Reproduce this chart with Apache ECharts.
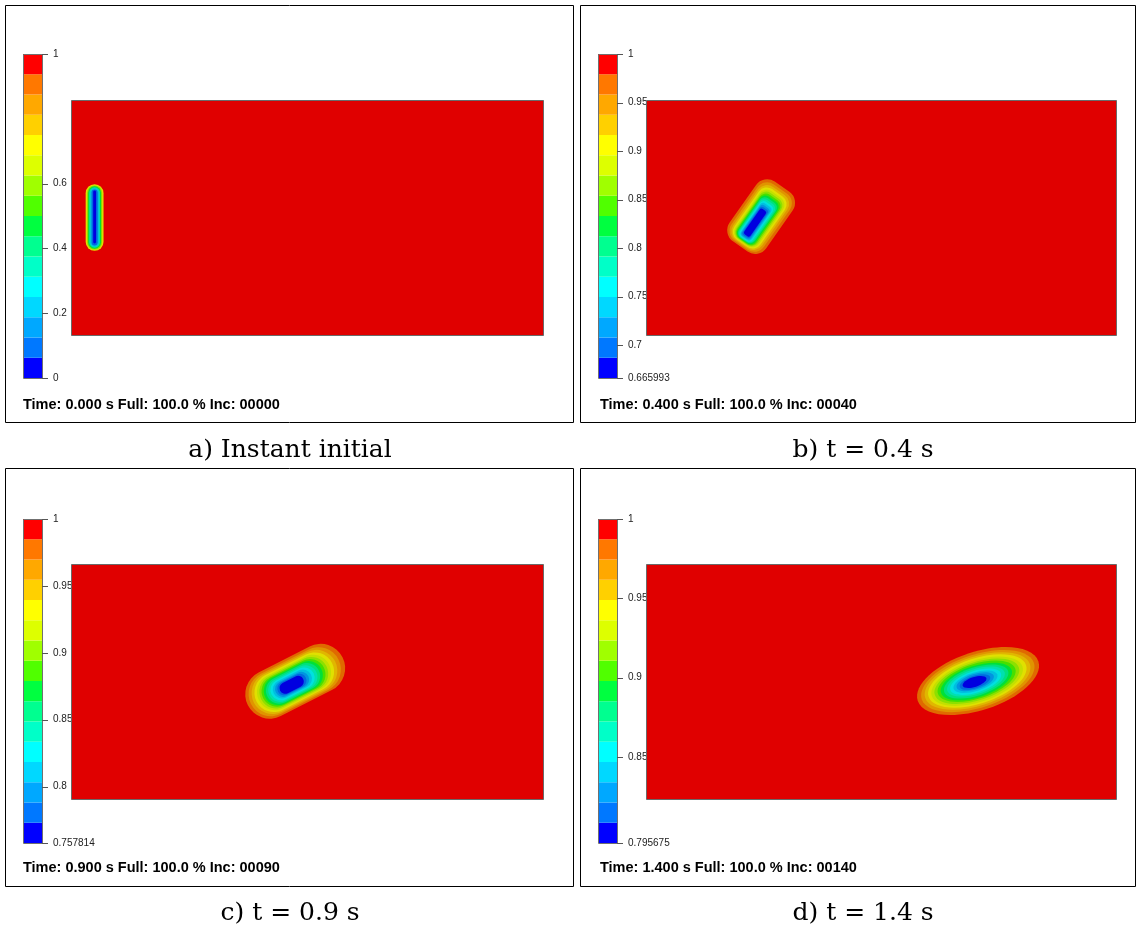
<!DOCTYPE html>
<html><head><meta charset="utf-8">
<script src="https://cdn.jsdelivr.net/npm/echarts@6/dist/echarts.min.js"></script>
<style>html,body{margin:0;padding:0;background:#fff}#c{width:1137px;height:929px}</style>
</head><body><div id="c"></div>
<script>
// ---------- DATA ----------
// 16 colour levels of the colour bar, lowest first
const bandColors = ['#0000FF','#0078FF','#00A8FF','#00D8FF','#00FFFF','#00FFC8','#00FF90','#00FF40',
                    '#50FF00','#A0FF00','#DDFF00','#FFFF00','#FFD000','#FFA800','#FF7800','#FF0000'];
const colorbarMin = [0, 0.665993, 0.757814, 0.795675];
const colorbarMax = [1, 1, 1, 1];
const ticksA = [0, 0.2, 0.4, 0.6, 1];
const ticksB = [0.665993, 0.7, 0.75, 0.8, 0.85, 0.9, 0.95, 1];
const ticksC = [0.757814, 0.8, 0.85, 0.9, 0.95, 1];
const ticksD = [0.795675, 0.85, 0.9, 0.95, 1];
const footers = ['Time: 0.000 s Full: 100.0 % Inc: 00000','Time: 0.400 s Full: 100.0 % Inc: 00040',
                 'Time: 0.900 s Full: 100.0 % Inc: 00090','Time: 1.400 s Full: 100.0 % Inc: 00140'];
const captions = ['a) Instant initial','b) t = 0.4 s','c) t = 0.9 s','d) t = 1.4 s'];
const domainX = [0, 20];
const domainY = [0, 10];
// contour rings: [level band (1..15), centre x, centre y, length, width]
const ringsA = [
  [12, 1.00, 5.00, 2.82, 0.76],
  [10, 1.00, 5.00, 2.72, 0.64],
  [8, 1.00, 5.00, 2.64, 0.55],
  [6, 1.00, 5.00, 2.56, 0.46],
  [4, 1.00, 5.00, 2.48, 0.37],
  [2, 1.00, 5.00, 2.38, 0.26],
  [1, 1.00, 5.02, 2.24, 0.12]
];
const ringsB = [
  [15, 4.90, 5.04, 3.10, 1.90],
  [14, 4.88, 5.02, 2.92, 1.68],
  [13, 4.86, 5.00, 2.76, 1.50],
  [12, 4.84, 4.98, 2.62, 1.35],
  [11, 4.82, 4.96, 2.50, 1.22],
  [10, 4.80, 4.94, 2.38, 1.11],
  [9, 4.78, 4.92, 2.27, 1.01],
  [8, 4.76, 4.90, 2.16, 0.92],
  [7, 4.74, 4.88, 2.05, 0.83],
  [6, 4.72, 4.86, 1.94, 0.74],
  [5, 4.70, 4.84, 1.83, 0.65],
  [4, 4.68, 4.82, 1.71, 0.56],
  [3, 4.66, 4.80, 1.59, 0.48],
  [2, 4.65, 4.79, 1.46, 0.40],
  [1, 4.64, 4.78, 1.32, 0.32]
];
const ringsC = [
  [15, 9.50, 5.01, 4.50, 2.08],
  [14, 9.48, 4.99, 4.16, 1.91],
  [13, 9.47, 4.98, 3.86, 1.78],
  [12, 9.46, 4.97, 3.59, 1.65],
  [11, 9.45, 4.96, 3.34, 1.54],
  [10, 9.44, 4.95, 3.10, 1.43],
  [9, 9.43, 4.94, 2.88, 1.32],
  [8, 9.42, 4.93, 2.66, 1.22],
  [7, 9.41, 4.92, 2.44, 1.12],
  [6, 9.40, 4.91, 2.22, 1.00],
  [5, 9.39, 4.90, 2.00, 0.89],
  [4, 9.38, 4.89, 1.77, 0.78],
  [3, 9.37, 4.88, 1.54, 0.67],
  [2, 9.36, 4.87, 1.32, 0.58],
  [1, 9.35, 4.86, 1.10, 0.49]
];
const ringsD = [
  [15, 14.13, 5.02, 5.40, 2.48],
  [14, 14.12, 5.02, 5.02, 2.26],
  [13, 14.11, 5.02, 4.68, 2.08],
  [12, 14.10, 5.02, 4.36, 1.92],
  [11, 14.09, 5.01, 4.06, 1.77],
  [10, 14.08, 5.01, 3.76, 1.62],
  [9, 14.07, 5.01, 3.46, 1.48],
  [8, 14.06, 5.00, 3.16, 1.34],
  [7, 14.05, 5.00, 2.86, 1.20],
  [6, 14.04, 5.00, 2.56, 1.06],
  [5, 14.03, 4.99, 2.26, 0.92],
  [4, 14.02, 4.99, 1.96, 0.79],
  [3, 14.01, 4.99, 1.66, 0.66],
  [2, 14.00, 4.98, 1.36, 0.54],
  [1, 13.98, 4.98, 1.06, 0.42]
];

// ---------- LAYOUT / STYLE ----------
const tickSets = [ticksA, ticksB, ticksC, ticksD];
const ringSets = [ringsA, ringsB, ringsC, ringsD];
const ringShape = [
  {angle: 90, kind: 'rect', round: 1},
  {angle: 55, kind: 'rect', round: 0.6},
  {angle: 27, kind: 'rect', round: 1},
  {angle: 18, kind: 'ellipse', round: 1}
];
const cbBoxes = [
  {left: 23, top: 54, width: 19, height: 324},
  {left: 598, top: 54, width: 19, height: 324},
  {left: 23, top: 519, width: 19, height: 324},
  {left: 598, top: 519, width: 19, height: 324}
];
const fieldBoxes = [
  {left: 71, top: 100, width: 472, height: 235},
  {left: 646, top: 100, width: 470, height: 235},
  {left: 71, top: 564, width: 472, height: 235},
  {left: 646, top: 564, width: 470, height: 235}
];
const frames = [
  {x: 5.5, y: 5.5, w: 568, h: 417},
  {x: 580.5, y: 5.5, w: 555, h: 417},
  {x: 5.5, y: 468.5, w: 568, h: 418},
  {x: 580.5, y: 468.5, w: 555, h: 418}
];
const footerPos = [[23, 405], [600, 405], [23, 868], [600, 868]];
const captionPos = [[290, 450], [863, 450], [290, 913], [863, 913]];

function darken(hex, f) {
  const n = parseInt(hex.slice(1), 16);
  const r = Math.round(((n >> 16) & 255) * f), g = Math.round(((n >> 8) & 255) * f), b = Math.round((n & 255) * f);
  return 'rgb(' + r + ',' + g + ',' + b + ')';
}
const fieldColors = bandColors.map(c => darken(c, 224 / 255));

const grids = [], xAxes = [], yAxes = [], series = [];
for (let p = 0; p < 4; p++) {
  // colour bar grid
  const cbIdx = grids.length;
  grids.push(Object.assign({containLabel: false}, cbBoxes[p]));
  xAxes.push({type: 'value', gridIndex: cbIdx, min: 0, max: 1, show: false});
  yAxes.push({
    type: 'value', gridIndex: cbIdx, min: colorbarMin[p], max: colorbarMax[p], position: 'right',
    splitLine: {show: false}, axisLine: {show: false}, axisTick: {show: false},
    axisLabel: {show: true, customValues: tickSets[p], margin: 11, fontSize: 10,
      fontFamily: 'Liberation Sans', color: '#222', formatter: v => String(v)}
  });
  const mn = colorbarMin[p], mx = colorbarMax[p];
  const bands = bandColors.map((c, k) => [mn + (mx - mn) * k / 16, mn + (mx - mn) * (k + 1) / 16, k]);
  series.push({
    type: 'custom', xAxisIndex: cbIdx, yAxisIndex: cbIdx, silent: true, z: 2,
    data: bands,
    renderItem: (params, api) => {
      const p1 = api.coord([0, api.value(1)]);
      const p2 = api.coord([1, api.value(0)]);
      return {type: 'rect', shape: {x: p1[0], y: p1[1], width: p2[0] - p1[0], height: p2[1] - p1[1]},
        style: {fill: bandColors[api.value(2)]}};
    }
  });
  series.push({
    type: 'custom', xAxisIndex: cbIdx, yAxisIndex: cbIdx, silent: true, z: 3,
    data: [[0, mn, 1, mx]],
    renderItem: (params, api) => {
      const p1 = api.coord([api.value(0), api.value(3)]);
      const p2 = api.coord([api.value(2), api.value(1)]);
      return {type: 'rect', shape: {x: Math.round(p1[0]) + 0.5, y: Math.round(p1[1]) + 0.5,
        width: Math.round(p2[0] - p1[0]), height: Math.round(p2[1] - p1[1])},
        style: {fill: null, stroke: '#707070', lineWidth: 1}};
    }
  });
  // colour bar tick marks
  series.push({
    type: 'custom', xAxisIndex: cbIdx, yAxisIndex: cbIdx, silent: true, z: 3,
    data: tickSets[p].map(v => [1, v]),
    renderItem: (params, api) => {
      const q = api.coord([api.value(0), api.value(1)]);
      const y = Math.round(q[1]) + 0.5;
      return {type: 'line', shape: {x1: q[0], y1: y, x2: q[0] + 6, y2: y},
        style: {stroke: '#555', lineWidth: 1}};
    }
  });
  // field grid
  const fIdx = grids.length;
  grids.push(Object.assign({containLabel: false}, fieldBoxes[p]));
  xAxes.push({type: 'value', gridIndex: fIdx, min: domainX[0], max: domainX[1], show: false});
  yAxes.push({type: 'value', gridIndex: fIdx, min: domainY[0], max: domainY[1], show: false});
  series.push({
    type: 'custom', xAxisIndex: fIdx, yAxisIndex: fIdx, silent: true, z: 4,
    data: [[domainX[0], domainY[0], domainX[1], domainY[1]]],
    renderItem: (params, api) => {
      const p1 = api.coord([api.value(0), api.value(3)]);
      const p2 = api.coord([api.value(2), api.value(1)]);
      return {type: 'rect', shape: {x: Math.round(p1[0]) + 0.5, y: Math.round(p1[1]) + 0.5,
        width: Math.round(p2[0] - p1[0]), height: Math.round(p2[1] - p1[1])},
        style: {fill: fieldColors[15], stroke: '#6a6a6a', lineWidth: 1}};
    }
  });
  const shp = ringShape[p];
  series.push({
    type: 'custom', xAxisIndex: fIdx, yAxisIndex: fIdx, silent: true, z: 5,
    data: ringSets[p],
    renderItem: (params, api) => {
      const band = api.value(0);
      const c = api.coord([api.value(1), api.value(2)]);
      const s = api.size([api.value(3), api.value(4)]);
      const w = s[0], h = s[1];
      const base = {x: c[0], y: c[1], rotation: shp.angle * Math.PI / 180, z2: 20 - band,
        style: {fill: fieldColors[band - 1]}};
      if (shp.kind === 'ellipse') {
        base.type = 'ellipse';
        base.shape = {cx: 0, cy: 0, rx: w / 2, ry: h / 2};
      } else {
        base.type = 'rect';
        base.shape = {x: -w / 2, y: -h / 2, width: w, height: h, r: Math.min(w, h) / 2 * shp.round};
      }
      return base;
    }
  });
}

const graphic = [];
for (let p = 0; p < 4; p++) {
  graphic.push({type: 'rect', z: 10, shape: {x: frames[p].x, y: frames[p].y, width: frames[p].w, height: frames[p].h},
    style: {fill: null, stroke: '#000', lineWidth: 1}, silent: true});
  graphic.push({type: 'text', z: 10, x: footerPos[p][0], y: footerPos[p][1], silent: true,
    style: {text: footers[p], font: 'bold 14.5px "Liberation Sans", Arial, sans-serif', fill: '#000',
      align: 'left', verticalAlign: 'middle'}});
  graphic.push({type: 'text', z: 10, x: captionPos[p][0], y: captionPos[p][1], silent: true,
    style: {text: captions[p], font: '25px "DejaVu Serif", serif', fill: '#000',
      align: 'center', verticalAlign: 'middle'}});
}

const chart = echarts.init(document.getElementById('c'), null, {renderer: 'canvas'});
chart.setOption({
  animation: false,
  backgroundColor: '#fff',
  grid: grids, xAxis: xAxes, yAxis: yAxes, series: series, graphic: graphic
});
</script></body></html>
